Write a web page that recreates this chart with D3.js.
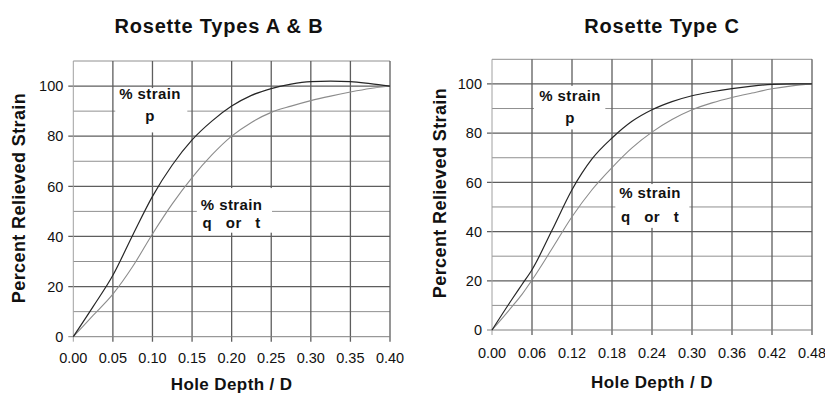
<!DOCTYPE html>
<html>
<head>
<meta charset="utf-8">
<script src="https://cdn.jsdelivr.net/npm/d3@7"></script>
<style>
  html, body { margin: 0; padding: 0; background: #fff; }
  svg { display: block; font-family: "Liberation Sans", Arial, Helvetica, sans-serif; }
</style>
</head>
<body>
<svg id="chart" width="825" height="396"></svg>
<script>
// Relieved strain vs. hole depth, rosettes A & B
const depthAB   = [0, 0.025, 0.05, 0.075, 0.10, 0.125, 0.15, 0.175, 0.20, 0.225, 0.25, 0.275, 0.30, 0.325, 0.35, 0.375, 0.40];
const strainPAB = [0, 12, 24.5, 40.5, 56, 68.5, 78.5, 86, 92, 96.3, 99, 100.8, 101.8, 102, 101.8, 101, 100];
const strainQAB = [0, 8.5, 17, 28, 41, 53, 63.5, 72.5, 80, 85.5, 89.5, 92, 94.2, 96, 97.6, 99, 100];

// Rosette C
const depthC   = [0, 0.03, 0.045, 0.06, 0.09, 0.12, 0.15, 0.18, 0.21, 0.24, 0.27, 0.30, 0.33, 0.36, 0.39, 0.42, 0.45, 0.48];
const strainPC = [0, 12.5, 18.5, 24.5, 40.5, 57, 69.5, 78, 84.8, 89.5, 92.8, 95.2, 96.8, 98.1, 99.1, 99.8, 100, 100];
const strainQC = [0, 9.5, 14.5, 20.3, 33, 46, 57, 66, 74, 80.4, 85.5, 89.5, 92.3, 94.5, 96.3, 98, 99.2, 100];

const xTicksAB = [0, 0.05, 0.10, 0.15, 0.20, 0.25, 0.30, 0.35, 0.40];
const xTicksC  = [0, 0.06, 0.12, 0.18, 0.24, 0.30, 0.36, 0.42, 0.48];
const yTicks   = [0, 20, 40, 60, 80, 100];
const yGrid    = [10, 30, 50, 70, 90, 110];

const titles = ["Rosette Types A & B", "Rosette Type C"];
const xTitle = "Hole Depth / D";
const yTitle = "Percent Relieved Strain";
const labelP = ["% strain", "p"];
const labelQ = ["% strain", "q   or   t"];

const svg = d3.select("#chart");

function drawPanel(o) {
  const g = svg.append("g");
  const x = d3.scaleLinear().domain([0, o.xMax]).range([o.left, o.right]);
  const y = d3.scaleLinear().domain([0, 110]).range([o.bottom, o.top]);

  // minor horizontal grid
  g.append("g").selectAll("line").data(yGrid).join("line")
    .attr("x1", o.left).attr("x2", o.right)
    .attr("y1", d => y(d)).attr("y2", d => y(d))
    .attr("stroke", "#909090").attr("stroke-width", 1);

  // major horizontal grid with left ticks
  g.append("g").selectAll("line").data(yTicks.filter(d => d > 0)).join("line")
    .attr("x1", o.left - 5).attr("x2", o.right)
    .attr("y1", d => y(d)).attr("y2", d => y(d))
    .attr("stroke", "#5e5e5e").attr("stroke-width", 1.3);

  // vertical grid with bottom ticks
  g.append("g").selectAll("line").data(o.xTicks.filter(d => d > 0)).join("line")
    .attr("x1", d => x(d)).attr("x2", d => x(d))
    .attr("y1", o.top).attr("y2", o.bottom + 5)
    .attr("stroke", "#5e5e5e").attr("stroke-width", 1.3);

  // left axis line and zero baseline
  g.append("line").attr("x1", o.left).attr("x2", o.left)
    .attr("y1", o.top).attr("y2", o.bottom + 5)
    .attr("stroke", "#a0a0a0").attr("stroke-width", 1);
  g.append("line").attr("x1", o.left - 5).attr("x2", o.right)
    .attr("y1", y(0)).attr("y2", y(0))
    .attr("stroke", "#808080").attr("stroke-width", 1);

  // curve labels on white boxes
  o.labels.forEach(lb => {
    g.append("rect")
      .attr("x", x(lb.bx0)).attr("width", x(lb.bx1) - x(lb.bx0))
      .attr("y", y(lb.by1)).attr("height", y(lb.by0) - y(lb.by1))
      .attr("fill", "#fff");
    const t = g.append("text").attr("text-anchor", "middle")
      .attr("font-size", 15).attr("font-weight", "bold")
      .attr("letter-spacing", 0.4).attr("fill", "#111")
      .style("white-space", "pre");
    t.append("tspan").attr("x", x(lb.cx)).attr("y", y(lb.y1)).text(lb.text[0]);
    t.append("tspan").attr("x", x(lb.cx)).attr("y", y(lb.y2)).text(lb.text[1]);
  });

  // strain curves
  const line = d3.line().x(d => x(d[0])).y(d => y(d[1])).curve(d3.curveMonotoneX);
  g.append("path").datum(d3.zip(o.qx, o.qy)).attr("d", line)
    .attr("fill", "none").attr("stroke", "#8c8c8c").attr("stroke-width", 1.1);
  g.append("path").datum(d3.zip(o.px, o.py)).attr("d", line)
    .attr("fill", "none").attr("stroke", "#262626").attr("stroke-width", 1.2);

  // tick labels
  g.append("g").selectAll("text").data(yTicks).join("text")
    .attr("x", o.left - 10).attr("y", d => y(d)).attr("dy", "0.36em")
    .attr("text-anchor", "end").attr("font-size", 14.5).attr("fill", "#111")
    .text(d => d);
  g.append("g").selectAll("text").data(o.xTicks).join("text")
    .attr("x", d => x(d)).attr("y", o.xLabelY)
    .attr("text-anchor", "middle").attr("font-size", 14.5).attr("fill", "#111")
    .text(d => d.toFixed(2));

  // titles
  g.append("text").attr("x", o.titleX).attr("y", 33)
    .attr("text-anchor", "middle").attr("font-size", 20).attr("font-weight", "bold")
    .attr("letter-spacing", 0.8).attr("fill", "#111").text(o.title);
  g.append("text").attr("x", (o.left + o.right) / 2).attr("y", o.xTitleY)
    .attr("text-anchor", "middle").attr("font-size", 17).attr("font-weight", "bold")
    .attr("letter-spacing", 0.4).attr("fill", "#111").text(xTitle);
  g.append("text")
    .attr("transform", `translate(${o.yTitleX},${o.yTitleY}) rotate(-90)`)
    .attr("text-anchor", "middle").attr("font-size", 18).attr("font-weight", "bold")
    .attr("letter-spacing", 0.4).attr("fill", "#111").text(yTitle);
}

drawPanel({
  left: 73.3, right: 390, top: 61, bottom: 336.7, xMax: 0.40,
  xTicks: xTicksAB, px: depthAB, py: strainPAB, qx: depthAB, qy: strainQAB,
  title: titles[0], titleX: 219, xLabelY: 363, xTitleY: 390,
  yTitleX: 25, yTitleY: 198,
  labels: [
    { text: labelP, cx: 0.097, y1: 94.8, y2: 86, bx0: 0.053, bx1: 0.144, by0: 81.5, by1: 99.2 },
    { text: labelQ, cx: 0.200, y1: 50.7, y2: 43.5, bx0: 0.156, bx1: 0.251, by0: 41.5, by1: 59.3 }
  ]
});

drawPanel({
  left: 492, right: 812, top: 59.3, bottom: 330, xMax: 0.48,
  xTicks: xTicksC, px: depthC, py: strainPC, qx: depthC, qy: strainQC,
  title: titles[1], titleX: 662, xLabelY: 357.5, xTitleY: 388,
  yTitleX: 446, yTitleY: 193,
  labels: [
    { text: labelP, cx: 0.117, y1: 93.1, y2: 84.1, bx0: 0.063, bx1: 0.17, by0: 81.5, by1: 99.2 },
    { text: labelQ, cx: 0.237, y1: 53.8, y2: 44, bx0: 0.185, bx1: 0.296, by0: 41.5, by1: 59.3 }
  ]
});
</script>
</body>
</html>
